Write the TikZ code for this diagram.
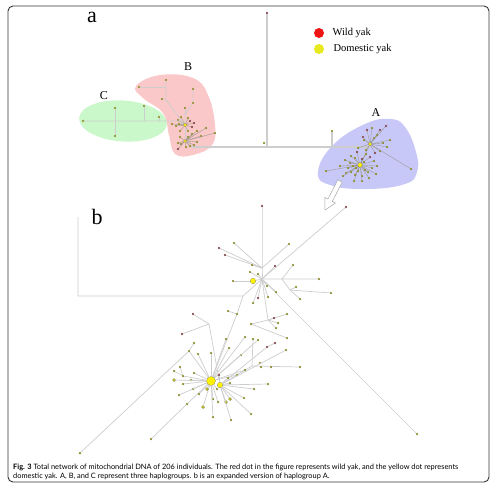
\documentclass[tikz,border=0pt]{standalone}
\usepackage{fontspec}
\setmainfont{Liberation Serif}
\newfontfamily\capfont{Lato}
\definecolor{grpA}{RGB}{200,200,248}
\definecolor{grpB}{RGB}{250,200,200}
\definecolor{grpC}{RGB}{202,248,202}
\definecolor{linkgray}{RGB}{205,205,205}
\definecolor{twiggray}{RGB}{150,150,140}
\definecolor{domfill}{RGB}{205,205,40}
\definecolor{wildfill}{RGB}{185,30,110}
\definecolor{dotedge}{RGB}{105,105,60}
\definecolor{legred}{RGB}{240,20,20}
\definecolor{legyellow}{RGB}{232,232,30}

\begin{document}
\begin{tikzpicture}[x=1pt,y=-1pt,
  link/.style={draw=linkgray,line width=0.7pt},
  trunk/.style={draw=linkgray,line width=1.3pt},
  twig/.style={draw=twiggray,line width=0.35pt},
  dom/.style={circle,draw=dotedge,line width=0.2pt,fill=domfill,inner sep=0pt,minimum size=2.2pt},
  wild/.style={dom,fill=wildfill},
  domb/.style={dom,minimum size=3.2pt},
  hub/.style={dom,fill=yellow,minimum size=#1},
  tag/.style={font=\fontsize{12}{12}\selectfont},
  panel/.style={font=\fontsize{22}{22}\selectfont}]
  \useasboundingbox (0,0) rectangle (495,491);

  % Marco
  \draw[draw=black!80,line width=0.9pt,rounded corners=5pt] (8,6) rectangle (489,482);

  % Grupos
  \fill[grpC] (123,121) ellipse [x radius=44, y radius=20.5, rotate=-4];
  \fill[grpB] plot [smooth cycle,tension=0.7] coordinates {(136,86) (160,75) (193,78) (208,95) (215,125) (212,145) (193,155) (175,154) (169,135) (163,113) (143,98)};
  \fill[grpA] plot [smooth cycle,tension=0.75] coordinates {(318,172) (333,145) (365,124) (390,119) (405,127) (416,152) (417,172) (405,184) (367,189) (330,185)};

  % Leyenda y letras
  \node[circle,fill=legred,minimum size=10pt,inner sep=0pt] (wilddot) at (319,33) {};
  \node[anchor=west,font=\fontsize{10.5}{12}\selectfont] (wildtxt) at (329,33) {Wild yak};
  \node[circle,fill=legyellow,minimum size=10pt,inner sep=0pt] (domdot) at (319,49) {};
  \node[anchor=west,font=\fontsize{10.5}{12}\selectfont] (domtxt) at (330,49) {Domestic yak};
  \node[panel] (pa) at (92,17) {a};
  \node[panel] (pb) at (97,217) {b};
  \node[tag] (tagA) at (376,113) {A};
  \node[tag] (tagB) at (188,67) {B};
  \node[tag] (tagC) at (104,96) {C};

  % Red total (a)
  \node[wild] (aTop) at (267,13) {};
  \node[dom] (aMid) at (264,143) {};
  \node[dom] (aSide) at (332,131) {};
  \coordinate (jTop) at (267,147);
  \coordinate (jSide) at (332,147);
  \coordinate (jB) at (192,147);
  \coordinate (jA) at (370,147);
  \draw[trunk] (jB) -- (jA);
  \draw[trunk] (aTop) -- (jTop);
  \draw[trunk] (aSide) -- (jSide);

  % Grupo B
  \node[hub=3.5pt] (hubB1) at (185,125) {};
  \node[hub=3pt] (hubB2) at (185,141) {};
  \node[dom] (b1) at (139,87) {};
  \node[dom] (b2) at (166,80) {};
  \node[dom] (b3) at (162,99) {};
  \node[dom] (b4) at (193,89) {};
  \node[dom] (b5) at (193,103) {};
  \node[dom] (b6) at (185,108) {};
  \coordinate (jB1) at (166,87);
  \coordinate (jB2) at (166,100);
  \coordinate (jB3) at (185,115);
  \draw[link] (b1) -- (jB1);
  \draw[link] (b2) -- (jB2) -- (hubB1);
  \draw[link] (b3) -- (jB2);
  \draw[link] (b4) -- (b5) -- (jB3) -- (hubB1);
  \draw[link] (b6) -- (jB3);
  \draw[link] (hubB1) -- (hubB2);
  \draw[link] (hubB2) -- (jB);
  \foreach \x/\y/\s [count=\i] in {178/120/dom, 176/126/dom, 180/131/dom, 190/121/wild, 192/127/wild, 194/123/wild, 188/118/dom, 181/117/dom, 172/124/dom, 179/124/dom, 188/131/dom}
  {\node[\s] (bs\i) at (\x,\y) {}; \draw[twig] (hubB1) -- (bs\i);}
  \foreach \x/\y/\s [count=\i] in {180/137/dom, 181/144/dom, 190/146/dom, 194/145/dom, 197/142/dom, 192/134/dom, 197/131/dom, 201/136/dom, 206/128/dom, 215/133/dom, 178/149/wild, 188/137/dom, 178/143/dom, 186/147/dom}
  {\node[\s] (bt\i) at (\x,\y) {}; \draw[twig] (hubB2) -- (bt\i);}

  % Grupo C
  \node[dom] (c1) at (83,121) {};
  \node[dom] (c2) at (115,108) {};
  \node[dom] (c3) at (115,136) {};
  \node[dom] (c4) at (144,106) {};
  \node[dom] (c5) at (159,117) {};
  \coordinate (jC2) at (144,121);
  \coordinate (jC3) at (159,121);
  \coordinate (jC4) at (178,121);
  \draw[link] (c1) -- (jC4) -- (hubB1);
  \draw[link] (c2) -- (c3);
  \draw[link] (c4) -- (jC2);
  \draw[link] (c5) -- (jC3);

  % Grupo A
  \node[hub=3.5pt] (hubA1) at (370,144) {};
  \node[hub=4.5pt] (hubA2) at (360,165) {};
  \draw[trunk] (jA) -- (hubA1);
  \draw[twig] (hubA1) -- (hubA2);
  \foreach \x/\y/\s [count=\i] in {386/126/wild, 367/130/wild, 363/137/wild, 377/135/dom, 383/143/dom, 387/147/dom, 380/151/dom, 375/153/wild, 364/140/dom, 374/138/dom, 358/148/dom, 411/169/dom, 372/128/dom, 380/130/wild, 390/140/dom, 366/150/dom}
  {\node[\s] (as\i) at (\x,\y) {}; \draw[twig] (hubA1) -- (as\i);}
  \foreach \x/\y/\s [count=\i] in {326/171/dom, 354/181/dom, 357/152/wild, 345/160/dom, 348/168/dom, 351/172/dom, 355/175/dom, 362/176/dom, 368/172/dom, 372/168/dom, 374/161/dom, 370/157/wild, 366/154/dom, 350/163/dom, 346/173/dom, 355/158/dom, 365/170/dom, 340/166/dom, 362/181/dom, 377/166/dom, 343/176/dom, 369/178/dom, 376/174/dom, 351/156/dom, 362/159/wild, 356/168/dom, 364/162/dom, 353/166/dom, 358/171/dom}
  {\node[\s] (at\i) at (\x,\y) {}; \draw[twig] (hubA2) -- (at\i);}

  % Flecha
  \draw[draw=gray!70,fill=white,line width=0.5pt] (337.8,179.8) -- (327.9,199) -- (324.8,197.4) -- (325,210) -- (335.4,203) -- (332.3,201.4) -- (342.2,182.2) -- cycle;

  % Panel b, parte superior
  \coordinate (bL1) at (78,217);
  \coordinate (bL2) at (78,296);
  \coordinate (jb0) at (243,296);
  \coordinate (jb1) at (262,268);
  \coordinate (jb2) at (262,279);
  \coordinate (jb3) at (282,279);
  \coordinate (jb4) at (290,290);
  \coordinate (jb6) at (268,320);
  \draw[link] (bL1) -- (bL2) -- (jb0) -- (jb2);
  \node[hub=5.5pt] (hubb1) at (253,281) {};
  \node[wild] (bu1) at (262,206) {};
  \node[wild] (bu2) at (346,207) {};
  \node[dom] (bu3) at (319,279) {};
  \node[dom] (bu4) at (293,265) {};
  \node[dom] (bu5) at (300,299) {};
  \node[dom] (bu6) at (331,293) {};
  \node[dom] (bu7) at (296,287) {};
  \node[dom] (bu8) at (233,281) {};
  \node[dom] (bu9) at (417,434) {};
  \draw[link] (bu1) -- (jb1) -- (jb2);
  \draw[link] (bu2) -- (jb2);
  \draw[link] (hubb1) -- (jb2) -- (bu3);
  \draw[link] (bu4) -- (jb3) -- (jb4) -- (bu5);
  \draw[link] (jb4) -- (bu6);
  \draw[link] (bu7) -- (jb4);
  \draw[link] (bu8) -- (hubb1);
  \draw[link] (jb2) -- (bu9);
  \draw[link] (jb2) -- (jb6);
  \foreach \x/\y/\s [count=\i] in {234/243/dom, 219/248/wild, 225/255/wild, 289/244/dom, 252/265/dom}
  {\node[\s] (bv\i) at (\x,\y) {}; \draw[link] (jb1) -- (bv\i);}
  \foreach \x/\y/\s [count=\i] in {250/272/dom, 258/274/dom, 275/266/wild, 267/286/dom, 276/292/dom, 258/298/wild, 253/303/dom, 268/297/dom}
  {\node[\s] (bw\i) at (\x,\y) {}; \draw[link] (jb2) -- (bw\i);}
  \foreach \x/\y/\s [count=\i] in {251/324/dom, 278/323/dom, 287/314/dom, 274/318/wild, 276/328/dom}
  {\node[\s] (bx\i) at (\x,\y) {}; \draw[link] (jb6) -- (bx\i);}
  \node[dom] (bx6) at (287,338) {};
  \draw[link] (bx1) -- (bx6);

  % Panel b, parte inferior
  \node[hub=9pt] (hubb2) at (211,381) {};
  \node[hub=5.5pt] (hubb3) at (220,385) {};
  \node[dom] (bl1) at (237,314) {};
  \node[dom] (bl2) at (228,311) {};
  \node[wild] (bl3) at (193,314) {};
  \node[wild] (bl4) at (182,334) {};
  \node[dom] (bl5) at (189,351) {};
  \node[dom] (bl6) at (194,343) {};
  \node[dom] (bl7) at (80,453) {};
  \node[dom] (bl8) at (151,439) {};
  \node[dom] (bl9) at (187,404) {};
  \node[dom] (bl10) at (183,376) {};
  \node[dom] (bl11) at (174,371) {};
  \node[dom] (bl12) at (180,367) {};
  \node[dom] (bl13) at (253,339) {};
  \node[dom] (bl14) at (300,367) {};
  \node[wild] (bl15) at (267,347) {};
  \node[wild] (bl16) at (275,343) {};
  \coordinate (jb7) at (209,324);
  \coordinate (jb8) at (252,366);
  \draw[link] (jb0) -- (bl1) -- (hubb2);
  \draw[link] (bl2) -- (bl1);
  \draw[link] (bl3) -- (jb7) -- (hubb3);
  \draw[link] (bl4) -- (jb7);
  \draw[link] (bl7) -- (bl5) -- (hubb2);
  \draw[link] (bl6) -- (bl5);
  \draw[link] (bl8) -- (bl9) -- (hubb2);
  \draw[link] (bl11) -- (bl10) -- (hubb2);
  \draw[link] (bl12) -- (bl10);
  \draw[link] (bl13) -- (jb8) -- (bl14);
  \draw[link] (jb8) -- (hubb3);
  \draw[link] (hubb3) -- (bl15) -- (bl16);
  \foreach \x/\y/\s [count=\i] in {260/363/dom, 261/367/dom, 271/367/dom}
  {\node[\s] (by\i) at (\x,\y) {};}
  \foreach \x/\y/\s [count=\i] in {198/354/dom, 211/353/dom, 226/339/dom, 229/348/dom, 245/337/dom, 241/355/dom, 245/370/dom, 237/375/dom, 194/373/dom, 191/380/dom, 183/384/dom, 174/380/domb, 193/389/dom, 199/394/dom, 179/395/dom, 203/407/domb, 207/389/domb, 213/399/dom, 213/417/dom, 217/389/dom, 218/402/dom, 258/340/dom}
  {\node[\s] (bz\i) at (\x,\y) {}; \draw[link] (hubb2) -- (bz\i);}
  \foreach \x/\y/\s [count=\i] in {226/402/domb, 230/399/domb, 244/398/dom, 251/414/dom, 231/420/dom, 254/389/dom, 268/384/dom, 230/383/dom, 228/378/dom, 219/375/wild, 286/350/dom}
  {\node[\s] (bk\i) at (\x,\y) {}; \draw[link] (hubb3) -- (bk\i);}

  % Pie de figura
  \node[anchor=base west,inner sep=0pt,font=\capfont\fontsize{7.4}{8}\selectfont] (cap1) at (13,469) {\textbf{Fig. 3} Total network of mitochondrial DNA of 206 individuals. The red dot in the figure represents wild yak, and the yellow dot represents};
  \node[anchor=base west,inner sep=0pt,font=\capfont\fontsize{7.4}{8}\selectfont] (cap2) at (13,478.5) {domestic yak. A, B, and C represent three haplogroups. b is an expanded version of haplogroup A.};
\end{tikzpicture}
\end{document}
